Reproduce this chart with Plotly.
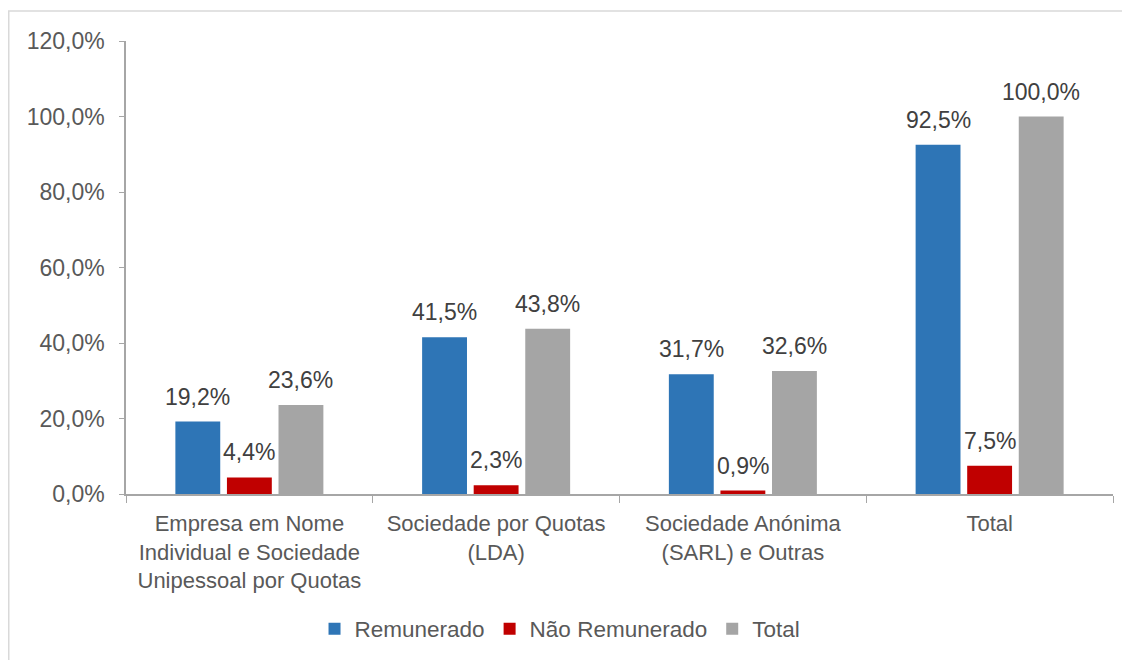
import plotly.graph_objects as go

categories = [
    "Empresa em Nome<br>Individual e Sociedade<br>Unipessoal por Quotas",
    "Sociedade por Quotas<br>(LDA)",
    "Sociedade Anónima<br>(SARL) e Outras",
    "Total",
]
series_names = ["Remunerado", "Não Remunerado", "Total"]
remunerado = [19.2, 41.5, 31.7, 92.5]
nao_remunerado = [4.4, 2.3, 0.9, 7.5]
total = [23.6, 43.8, 32.6, 100.0]
colors = ["#2e75b6", "#c00000", "#a5a5a5"]
y_ticks = [0, 20, 40, 60, 80, 100, 120]

FONT = "Liberation Sans, Arial, sans-serif"

# page has an 8px body margin; figure sized to fit window
W, H = 1122, 652
L, R, T, B = 118, 17, 33, 166
BARGAP, GROUPGAP = 0.373, 0.13

fig = go.Figure()
all_series = [remunerado, nao_remunerado, total]
for name, vals, col in zip(series_names, all_series, colors):
    fig.add_trace(go.Bar(
        name=name, x=categories, y=vals,
        marker=dict(color=col, line=dict(width=0)),
        cliponaxis=False,
    ))

plot_w = W - L - R
plot_h = H - T - B
cat_w = plot_w / len(categories)
slot = cat_w * (1 - BARGAP) / len(series_names)
annotations = []
for i, vals in enumerate(all_series):
    xshift = (i - (len(series_names) - 1) / 2) * slot
    for c, v in zip(categories, vals):
        annotations.append(dict(
            x=c, y=v, xref="x", yref="y", text=f"{v:.1f}%".replace(".", ","),
            showarrow=False, xshift=xshift, yanchor="bottom", yshift=10,
            font=dict(family=FONT, size=23, color="#404040"),
        ))

fig.update_layout(
    width=W, height=H,
    paper_bgcolor="white", plot_bgcolor="white",
    separators=",.",
    barmode="group", bargap=BARGAP, bargroupgap=GROUPGAP,
    margin=dict(l=L, r=R, t=T, b=B, autoexpand=False),
    font=dict(family=FONT, size=23, color="#595959"),
    showlegend=True,
    legend=dict(
        orientation="h", xref="container", yref="container",
        x=0.492, y=1 - (629 - 8) / H, xanchor="center", yanchor="middle",
        font=dict(family=FONT, size=22.5, color="#595959"),
        itemwidth=30, traceorder="normal",
    ),
    annotations=annotations,
    shapes=[dict(
        type="rect", xref="paper", yref="paper",
        x0=(0.75 - L) / plot_w, x1=(W + 50 - L) / plot_w,
        y0=-(B + 50) / plot_h, y1=(H - B - 3) / plot_h,
        line=dict(color="#d9d9d9", width=1.5), layer="below",
    )],
)
fig.update_yaxes(
    range=[0, 120], tickvals=y_ticks, ticktext=[f"{v},0%" for v in y_ticks],
    showgrid=False, zeroline=False,
    showline=True, linecolor="#a6a6a6", linewidth=1.5,
    ticks="outside", ticklen=5, tickcolor="#a6a6a6", ticklabelstandoff=10,
    tickfont=dict(family=FONT, size=23, color="#595959"),
)
fig.update_xaxes(
    showgrid=False, showline=True, linecolor="#a6a6a6", linewidth=1.5,
    ticks="outside", ticklen=7, tickcolor="#a6a6a6", tickson="boundaries",
    ticklabelstandoff=9,
    tickfont=dict(family=FONT, size=22, color="#595959"),
    tickangle=0,
)

fig.write_html("out.html")
